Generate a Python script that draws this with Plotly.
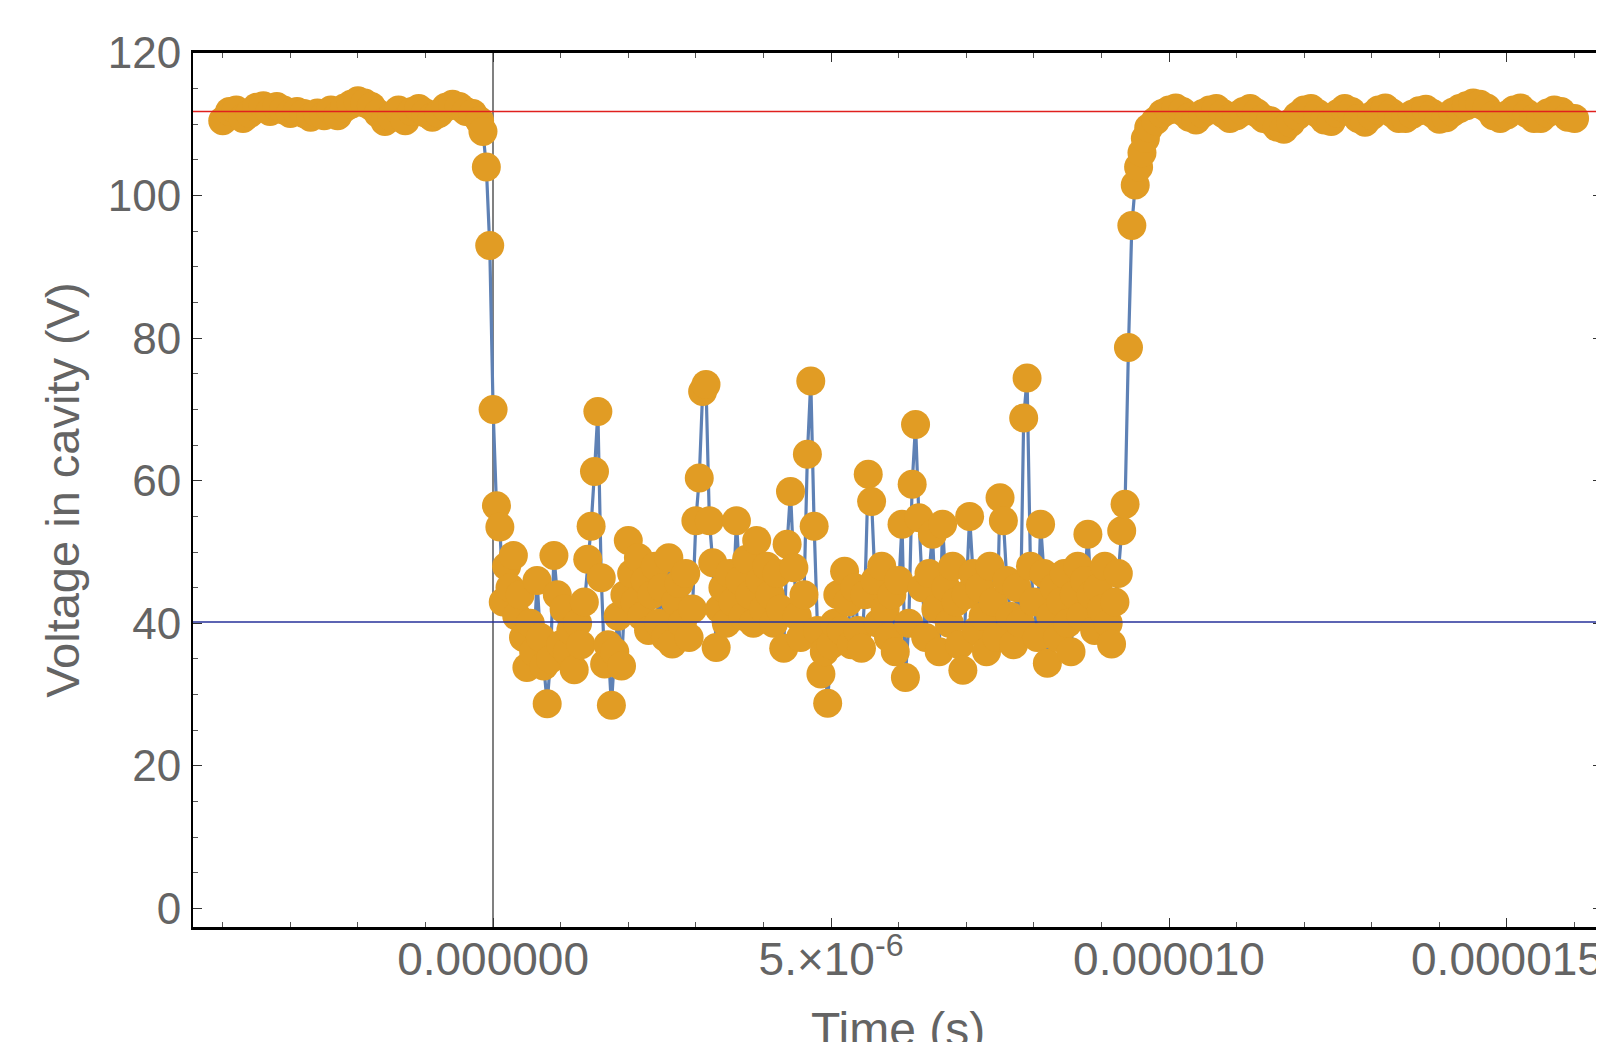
import numpy as np
import plotly.graph_objects as go

# ---- data (voltage in V), sampled segments; time in microseconds ----
left_start_us, left_step_us = -4.0, 0.1
v_left = [110.5, 111.8, 112.0, 110.8, 111.5, 112.4, 112.6, 111.8, 112.5, 112.0,
          111.5, 111.8, 111.5, 111.0, 111.6, 111.2, 112.0, 111.2, 112.3, 112.8,
          113.3, 113.0, 112.5, 111.5, 110.4, 111.0, 112.0, 110.5, 111.8, 112.2,
          111.6, 111.0, 111.5, 112.4, 112.8, 112.5, 111.8, 111.5, 110.5]

mid_start_us, mid_step_us = -0.15, 0.05
v_mid = [109, 104, 93, 70, 56.5, 53.5,
         43, 48, 45, 49.5, 41, 44, 38, 33.8, 40, 36,
         46, 38, 34, 28.7, 35, 49.5, 44, 37, 42, 36,
         39, 33.5, 40, 37, 43, 49, 53.6, 61.3, 69.7, 46.4,
         34.3, 37, 28.5, 36, 41, 34, 44, 51.6, 47, 43,
         49.2, 41, 46, 39, 44, 48, 40, 45, 38, 49.2,
         37.1, 43, 45.6, 40, 47, 38, 42, 54.4, 60.4, 72.5,
         73.5, 54.4, 48.5, 36.6, 42, 45, 40, 47, 43, 54.4,
         46, 41, 49, 44, 40, 51.6, 46, 42, 48, 44,
         40, 47, 42, 36.5, 51.1, 58.5, 47.8, 41, 38, 44,
         63.7, 74, 53.6, 39, 32.9, 36, 28.8, 37, 40, 44,
         39, 47.3, 43, 37, 45, 39, 36.5, 44, 60.9, 57.1,
         46, 40, 48, 42, 38, 44, 36, 46, 53.9, 32.4,
         40, 59.5, 67.9, 54.8, 45, 38, 47, 52.5, 42, 36,
         53.9, 45, 40, 48, 43, 37, 33.4, 44, 55, 47,
         39, 45, 41, 36, 48, 43, 38, 57.6, 54.4, 46,
         41, 37, 45, 40, 68.8, 74.4, 48, 43, 38, 53.9,
         47, 34.4, 41, 45, 38, 43, 47, 40, 36, 44,
         48, 41, 46, 52.5, 44, 39, 45, 42, 48, 40,
         37.1, 43, 47, 53, 56.7, 78.7, 95.8, 101.5, 104, 106,
         108, 109.5]

right_start_us, right_step_us = 9.8, 0.1
v_right = [110.5, 111.5, 112.0, 112.3, 111.8, 111.0, 110.6, 111.5, 112.0, 112.2,
           111.5, 110.8, 111.2, 111.8, 112.2, 111.6, 110.8, 110.5, 109.6, 109.3,
           110.2, 111.2, 112.0, 112.2, 111.5, 110.6, 110.4, 111.5, 112.2, 111.8,
           110.8, 110.3, 111.2, 112.0, 112.3, 111.6, 110.8, 110.8, 111.4, 111.9,
           112.1, 111.5, 110.7, 110.9, 111.7, 112.2, 112.6, 113.0, 112.8, 112.3,
           111.2, 110.8, 111.3, 112.0, 112.3, 111.5, 110.8, 110.8, 111.6, 112.0,
           111.8, 111.0, 110.8]

upper_level = 111.8   # red reference line (V)
lower_level = 40.2    # blue reference line (V)

x_tickvals = [0, 5e-6, 1e-5, 1.5e-5]
x_ticktext = ["0.000000", "5.×10<sup>-6</sup>", "0.000010", "0.000015"]
y_tickvals = [0, 20, 40, 60, 80, 100, 120]
y_ticktext = ["0", "20", "40", "60", "80", "100", "120"]
x_title = "Time (s)"
y_title = "Voltage in cavity (V)"

# ---- build time axis from the sampling grid ----
t_left = left_start_us + left_step_us * np.arange(len(v_left))
t_mid = mid_start_us + mid_step_us * np.arange(len(v_mid))
t_right = right_start_us + right_step_us * np.arange(len(v_right))
t = np.concatenate([t_left, t_mid, t_right]) * 1e-6
v = np.concatenate([v_left, v_mid, v_right])

GRAY = "#646464"
FONT = "Liberation Sans, Arial, sans-serif"

fig = go.Figure()
fig.add_trace(go.Scatter(x=t, y=v, mode="lines",
                         line=dict(color="#5E81B5", width=3.2),
                         hoverinfo="skip", showlegend=False))
fig.add_trace(go.Scatter(x=t, y=v, mode="markers",
                         marker=dict(color="#E19C24", size=29, line=dict(width=0)),
                         showlegend=False))

fig.add_shape(type="line", xref="paper", x0=0, x1=1, yref="y",
              y0=upper_level, y1=upper_level,
              line=dict(color="#E0201E", width=1.5), layer="above")
fig.add_shape(type="line", xref="paper", x0=0, x1=1, yref="y",
              y0=lower_level, y1=lower_level,
              line=dict(color="#26309A", width=1.5), layer="above")

# x-axis title placed low (partly cut by the page edge, as in the source image)
fig.add_annotation(text=x_title, xref="paper", yref="paper", x=0.5, y=0,
                   xanchor="center", yanchor="top", yshift=-74, showarrow=False,
                   font=dict(family=FONT, size=48, color=GRAY))

# page body has an 8px default margin; size/margins compensate for it
fig.update_layout(
    width=1596, height=1034,
    margin=dict(l=185, r=2, t=45, b=115),
    paper_bgcolor="white", plot_bgcolor="white",
    font=dict(family=FONT, size=44, color=GRAY),
    showlegend=False,
)
fig.update_xaxes(
    range=[-4.44e-6, 16.406e-6],
    automargin=False,
    tickmode="array", tickvals=x_tickvals, ticktext=x_ticktext,
    ticks="inside", ticklen=9, tickwidth=1.2, tickcolor="#333",
    minor=dict(tickmode="linear", tick0=0, dtick=1e-6, ticks="inside",
               ticklen=5, tickwidth=1, tickcolor="#555"),
    showline=True, linecolor="black", linewidth=2.5, mirror="ticks",
    showgrid=False,
    zeroline=True, zerolinecolor="#808080", zerolinewidth=1.5,
    tickfont=dict(size=46, color=GRAY),
    ticklabelstandoff=-10,
)
fig.update_yaxes(
    range=[-2.6, 120.0],
    automargin=False,
    tickmode="array", tickvals=y_tickvals, ticktext=y_ticktext,
    ticks="inside", ticklen=9, tickwidth=1.2, tickcolor="#333",
    minor=dict(tickmode="linear", tick0=0, dtick=5, ticks="inside",
               ticklen=5, tickwidth=1, tickcolor="#555"),
    showline=True, linecolor="black", linewidth=2, mirror="ticks",
    showgrid=False, zeroline=False,
    tickfont=dict(size=44, color=GRAY),
    ticklabelstandoff=1,
    title=dict(text=y_title, font=dict(size=47, color=GRAY), standoff=13),
)

fig.write_html("out.html")
